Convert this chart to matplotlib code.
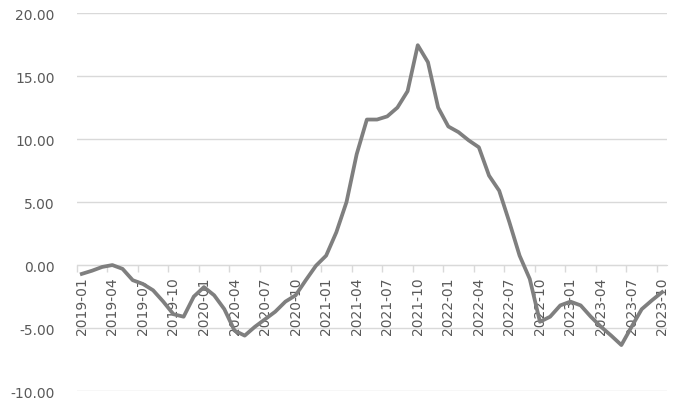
import numpy as np
import matplotlib
matplotlib.use("Agg")
import matplotlib.pyplot as plt

months = [f"{y}-{m:02d}" for y in range(2019, 2024) for m in range(1, 13)][:58]
values = [-0.7, -0.45, -0.15, 0.0, -0.3, -1.2, -1.5, -2.0, -2.9, -3.9, -4.1, -2.5,
          -1.75, -2.4, -3.5, -5.2, -5.6, -4.9, -4.3, -3.7, -2.9, -2.4, -1.2, -0.05,
          0.75, 2.6, 5.0, 8.8, 11.55, 11.55, 11.8, 12.5, 13.8, 17.45, 16.1, 12.5,
          11.0, 10.55, 9.9, 9.35, 7.1, 5.9, 3.4, 0.75, -1.1, -4.5, -4.1, -3.2,
          -2.9, -3.2, -4.1, -4.9, -5.6, -6.35, -4.9, -3.5, -2.8, -2.15]
yticks = [-10, -5, 0, 5, 10, 15, 20]


def main():
    fig = plt.figure(figsize=(6.85, 4.14), dpi=100)
    ax = fig.add_axes([0.112, 0.053, 0.862, 0.913])
    x = np.arange(len(values))
    ax.plot(x, values, color="#7f7f7f", lw=2.7, solid_joinstyle="round", zorder=3)

    ax.set_xlim(-0.5, len(values) - 0.5)
    ax.set_ylim(-10, 20)
    ax.set_yticks(yticks)
    ax.set_yticklabels([f"{v:.2f}" for v in yticks])
    ax.grid(axis="y", color="#d9d9d9", lw=1)
    ax.tick_params(axis="y", length=0, pad=16, labelsize=10, labelcolor="#595959")

    for s in ["top", "right", "left"]:
        ax.spines[s].set_visible(False)
    ax.spines["bottom"].set_position(("data", 0))
    ax.spines["bottom"].set_color("#d9d9d9")

    ax.set_xticks(np.arange(-0.5, len(values), 3))
    ax.set_xticklabels([])
    ax.tick_params(axis="x", which="major", length=5, color="#d9d9d9", width=1)
    ax.set_xticks(x[::3], minor=True)
    ax.set_xticklabels(months[::3], minor=True, rotation=90)
    ax.tick_params(axis="x", which="minor", length=0, pad=8, labelsize=10, labelcolor="#595959")

    fig.savefig("out.png", dpi=100)


if __name__ == "__main__":
    main()
